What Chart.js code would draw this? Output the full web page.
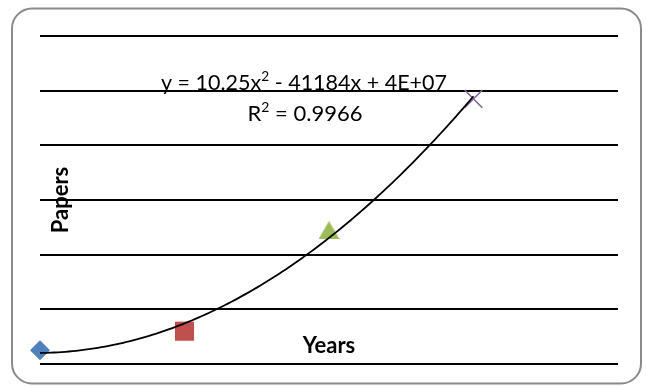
<!DOCTYPE html>
<html>
<head>
<meta charset="utf-8">
<script src="https://cdn.jsdelivr.net/npm/chart.js@4/dist/chart.umd.min.js"></script>
<style>
  html, body { margin: 0; padding: 0; background: #fff; }
  #wrap { width: 646px; height: 387px; position: relative; }
</style>
</head>
<body>
<div id="wrap"><canvas id="chart"></canvas></div>
<script>
// Papers published per year
const years = [2009, 2010, 2011, 2012];
const papers = [5, 12, 49, 97];
const markerStyles = ['rectRot', 'rect', 'triangle', 'crossRot'];
const markerColors = ['#4F81BD', '#C0504D', '#9BBB59', '#8064A2'];
const yTicks = [0, 20, 40, 60, 80, 100, 120];
const xRange = [2009, 2013];
// Trendline label lines as [text, superscript] runs
const equationRuns = [['y = 10.25x', false], ['2', true], [' - 41184x + 4E+07', false]];
const rSquaredRuns = [['R', false], ['2', true], [' = 0.9966', false]];
const xTitle = 'Years';
const yTitle = 'Papers';

// Triangle marker centred on its bounding box
function triangleMarker(color) {
  const c = document.createElement('canvas');
  c.width = 21; c.height = 18;
  const g = c.getContext('2d');
  g.fillStyle = color;
  g.beginPath();
  g.moveTo(0, 18); g.lineTo(10.5, 0); g.lineTo(21, 18); g.closePath();
  g.fill();
  return c;
}
const pointStyles = markerStyles.map((s, i) => s === 'triangle' ? triangleMarker(markerColors[i]) : s);
const pointRadii = [10, 13.5, 10, 12.5];

// Least-squares quadratic fit, x centred on the first year
function quadFit(xs, ys) {
  const x0 = xs[0];
  const S = [0, 0, 0, 0, 0], T = [0, 0, 0];
  xs.forEach((x, i) => {
    const t = x - x0;
    for (let k = 0; k <= 4; k++) S[k] += Math.pow(t, k);
    for (let k = 0; k <= 2; k++) T[k] += ys[i] * Math.pow(t, k);
  });
  const M = [[S[0], S[1], S[2], T[0]], [S[1], S[2], S[3], T[1]], [S[2], S[3], S[4], T[2]]];
  for (let i = 0; i < 3; i++) {
    for (let j = i + 1; j < 3; j++) {
      const f = M[j][i] / M[i][i];
      for (let k = i; k < 4; k++) M[j][k] -= f * M[i][k];
    }
  }
  const c = [0, 0, 0];
  for (let i = 2; i >= 0; i--) {
    let s = M[i][3];
    for (let k = i + 1; k < 3; k++) s -= M[i][k] * c[k];
    c[i] = s / M[i][i];
  }
  return x => { const t = x - x0; return c[0] + c[1] * t + c[2] * t * t; };
}
const trend = quadFit(years, papers);

// Draws a line of text runs centred at cx, fitted to the given width
function drawRuns(ctx, runs, cx, baseline, size, width) {
  const normal = size + 'px Lato', sup = Math.round(size * 0.62) + 'px Lato';
  let total = 0;
  const widths = runs.map(([t, s]) => { ctx.font = s ? sup : normal; const w = ctx.measureText(t).width; total += w; return w; });
  const k = width / total;
  ctx.save();
  ctx.translate(cx - width / 2, baseline);
  ctx.scale(k, 1);
  let x = 0;
  runs.forEach(([t, s], i) => {
    ctx.font = s ? sup : normal;
    ctx.fillText(t, x, s ? -size * 0.4 : 0);
    x += widths[i];
  });
  ctx.restore();
}

const framePlugin = {
  id: 'frame',
  beforeDraw(chart) {
    const ctx = chart.ctx;
    ctx.save();
    ctx.fillStyle = '#fff';
    ctx.fillRect(0, 0, chart.width, chart.height);
    ctx.strokeStyle = '#8a8a8a';
    ctx.lineWidth = 2;
    ctx.beginPath();
    ctx.roundRect(12, 8.5, 629, 375, 20);
    ctx.stroke();
    ctx.restore();
  }
};

const trendPlugin = {
  id: 'trend',
  afterDatasetsDraw(chart) {
    const ctx = chart.ctx, xs = chart.scales.x, ys = chart.scales.y;
    const a = years[0], b = years[years.length - 1];
    ctx.save();
    ctx.strokeStyle = '#000';
    ctx.lineWidth = 1.8;
    ctx.beginPath();
    const n = 120;
    for (let i = 0; i <= n; i++) {
      const x = a + (b - a) * i / n;
      const px = xs.getPixelForValue(x), py = ys.getPixelForValue(trend(x));
      if (i === 0) ctx.moveTo(px, py); else ctx.lineTo(px, py);
    }
    ctx.stroke();

    // trendline equation
    ctx.fillStyle = '#000';
    ctx.textAlign = 'left';
    ctx.textBaseline = 'alphabetic';
    drawRuns(ctx, equationRuns, 304, 89.5, 22, 286);
    drawRuns(ctx, rSquaredRuns, 305, 120.5, 22, 115);

    // axis titles
    ctx.font = 'bold 22px Lato';
    ctx.textAlign = 'center';
    ctx.fillText(xTitle, xs.getPixelForValue(2011), 353);
    ctx.translate(61, 200);
    ctx.rotate(-Math.PI / 2);
    ctx.textBaseline = 'middle';
    ctx.fillText(yTitle, 0, 0);
    ctx.restore();
  }
};

new Chart(document.getElementById('chart'), {
  type: 'scatter',
  data: {
    datasets: [{
      data: years.map((x, i) => ({ x, y: papers[i] })),
      pointStyle: pointStyles,
      pointRadius: pointRadii,
      pointHoverRadius: pointRadii,
      backgroundColor: markerColors,
      borderColor: markerColors,
      borderWidth: [0, 0, 0, 1.6],
      clip: false
    }]
  },
  options: {
    responsive: true,
    maintainAspectRatio: false,
    animation: false,
    events: [],
    layout: { padding: { left: 40, right: 28, top: 36, bottom: 23 } },
    plugins: { legend: { display: false }, tooltip: { enabled: false } },
    scales: {
      x: { type: 'linear', min: xRange[0], max: xRange[1], display: false },
      y: {
        min: yTicks[0], max: yTicks[yTicks.length - 1],
        afterBuildTicks: s => { s.ticks = yTicks.map(v => ({ value: v })); },
        ticks: { display: false },
        border: { display: false },
        grid: { color: '#000', lineWidth: 2, drawTicks: false, tickLength: 0 }
      }
    }
  },
  plugins: [framePlugin, trendPlugin]
});
</script>
</body>
</html>
